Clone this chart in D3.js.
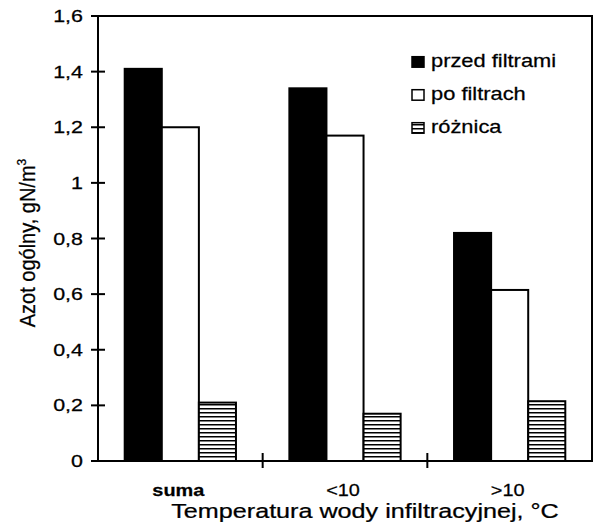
<!DOCTYPE html>
<html><head><meta charset="utf-8">
<script src="https://cdn.jsdelivr.net/npm/d3@7"></script>
<style>body{margin:0;background:#fff}svg{display:block}text{font-family:Arial,"Liberation Sans",sans-serif;fill:#000;stroke:#000;stroke-width:0.25}</style>
</head><body><div id="chart"></div>
<script>
const categories = ["suma", "<10", ">10"];
const seriesNames = ["przed filtrami", "po filtrach", "różnica"];
const przedFiltrami = [1.41, 1.34, 0.82];
const poFiltrach = [1.20, 1.17, 0.615];
const roznica = [0.21, 0.17, 0.215];
const yTicks = [0, 0.2, 0.4, 0.6, 0.8, 1, 1.2, 1.4, 1.6];
const yTitle = "Azot ogólny, gN/m";
const xTitle = "Temperatura wody infiltracyjnej, °C";

const W = 601, H = 528;
const m = {left: 98, right: 9, top: 16, bottom: 67};
const svg = d3.select("#chart").append("svg").attr("width", W).attr("height", H);
const defs = svg.append("defs");
const pat = defs.append("pattern").attr("id", "hatch").attr("patternUnits", "userSpaceOnUse")
  .attr("width", 8).attr("height", 4);
pat.append("rect").attr("width", 8).attr("height", 4).attr("fill", "#fff");
pat.append("rect").attr("y", 0).attr("width", 8).attr("height", 1.5).attr("fill", "#000");

const x0 = d3.scaleBand().domain(categories).range([m.left, W - m.right]).paddingInner(0).paddingOuter(0);
const x1 = d3.scaleBand().domain(seriesNames).range([0, x0.bandwidth()]).paddingOuter(0.72).paddingInner(0);
const y = d3.scaleLinear().domain([0, 1.6]).range([H - m.bottom, m.top]);

const fills = ["#000", "#fff", "url(#hatch)"];
const data = categories.map((c, i) => ({c, vals: [przedFiltrami[i], poFiltrach[i], roznica[i]]}));

function stext(sel, x, yy, sx, size) {
  return sel.append("text").attr("transform", `translate(${x},${yy}) scale(${sx},1)`).attr("font-size", size);
}

const g = svg.append("g");
data.forEach(d => {
  d.vals.forEach((v, j) => {
    g.append("rect")
      .attr("x", x0(d.c) + x1(seriesNames[j]))
      .attr("y", y(v))
      .attr("width", x1.bandwidth())
      .attr("height", y(0) - y(v))
      .attr("fill", fills[j])
      .attr("stroke", "#000").attr("stroke-width", 2);
  });
});

// frame
svg.append("rect").attr("x", m.left).attr("y", m.top)
  .attr("width", W - m.right - m.left).attr("height", y(0) - m.top)
  .attr("fill", "none").attr("stroke", "#000").attr("stroke-width", 2);

// y axis
const fmt = v => String(v).replace(".", ",");
yTicks.forEach(t => {
  svg.append("line").attr("x1", m.left - 7).attr("x2", m.left + 7).attr("y1", y(t)).attr("y2", y(t))
    .attr("stroke", "#000").attr("stroke-width", 2);
  stext(svg, 83, y(t) + 6, 1.3, 16.5).attr("text-anchor", "end").text(fmt(t));
});

// x axis ticks at category boundaries
const bounds = categories.slice(1).map(c => x0(c));
bounds.forEach(b => {
  svg.append("line").attr("x1", b).attr("x2", b).attr("y1", y(0) - 8).attr("y2", y(0) + 7)
    .attr("stroke", "#000").attr("stroke-width", 2);
});
categories.forEach((c, i) => {
  stext(svg, x0(c) + x0.bandwidth() / 2 - 2, 495.5, 1.17, 17)
    .attr("text-anchor", "middle").attr("font-weight", i === 0 ? "bold" : "normal").text(c);
});

stext(svg, 365, 518, 1.29, 19.5).attr("text-anchor", "middle").text(xTitle);

const yt = svg.append("text").attr("transform", `translate(35,243) scale(1.12,1) rotate(-90)`)
  .attr("text-anchor", "middle").attr("font-size", 20);
yt.append("tspan").text(yTitle);
yt.append("tspan").attr("dy", -8).attr("font-size", 12).text("3");

// legend
seriesNames.forEach((s, i) => {
  const cy = 61.7 + i * 33;
  svg.append("rect").attr("x", 412).attr("y", cy - 5).attr("width", 12).attr("height", 10.5)
    .attr("fill", fills[i]).attr("stroke", "#000").attr("stroke-width", 1.5);
  stext(svg, 431, cy + 5.5, 1.25, 17.5).text(s);
});
</script></body></html>
